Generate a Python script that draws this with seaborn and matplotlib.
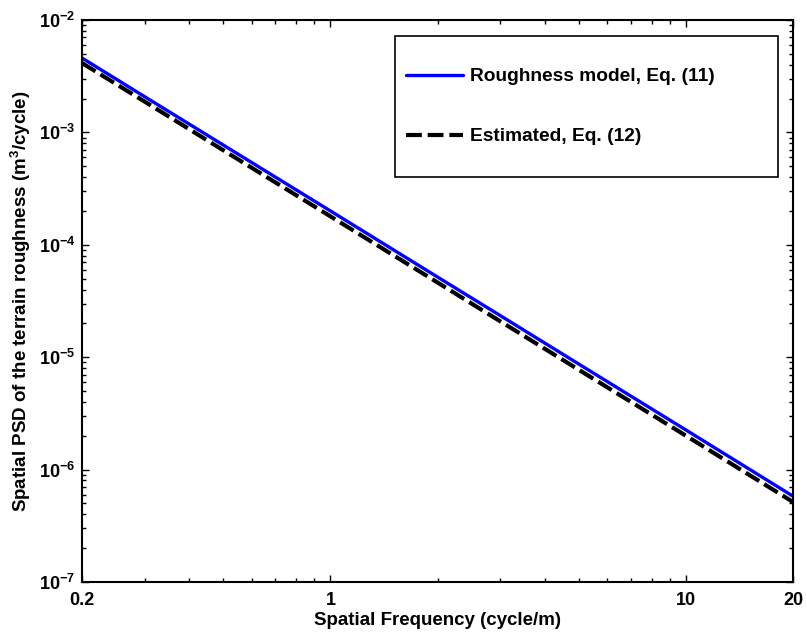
import numpy as np
import pandas as pd
import matplotlib
matplotlib.use("Agg")
import matplotlib.pyplot as plt
import matplotlib.ticker as mticker
from matplotlib.patches import Rectangle
import seaborn as sns

# Data (log-log straight lines)
freq = [0.2, 0.3, 0.5, 1.0, 2.0, 3.0, 5.0, 10.0, 20.0]
psd_model = [4.59e-3, 2.08e-3, 7.7e-4, 2.0e-4, 5.17e-5, 2.35e-5, 8.67e-6, 2.25e-6, 5.8e-7]
psd_est = [4.14e-3, 1.88e-3, 6.92e-4, 1.79e-4, 4.62e-5, 2.09e-5, 7.71e-6, 2.0e-6, 5.15e-7]
label_model = "Roughness model, Eq. (11)"
label_est = "Estimated, Eq. (12)"
x_ticks = [0.2, 1, 10, 20]
x_ticklabels = ["0.2", "1", "10", "20"]
y_ticks = [1e-7, 1e-6, 1e-5, 1e-4, 1e-3, 1e-2]

sns.set_style("ticks")
plt.rcParams["font.family"] = ["Liberation Sans", "DejaVu Sans"]
plt.rcParams["font.weight"] = "bold"
plt.rcParams["mathtext.fontset"] = "custom"
plt.rcParams["mathtext.rm"] = "Liberation Sans:bold"
plt.rcParams["mathtext.bf"] = "Liberation Sans:bold"
plt.rcParams["mathtext.it"] = "Liberation Sans:bold:italic"
for k in ["text.color", "axes.labelcolor", "xtick.color", "ytick.color", "axes.edgecolor"]:
    plt.rcParams[k] = "black"

df_model = pd.DataFrame({"f": freq, "psd": psd_model})
df_est = pd.DataFrame({"f": freq, "psd": psd_est})

W, H = 807, 634
L, R, T, B = 82, 793, 20, 582
fig = plt.figure(figsize=(W / 100, H / 100), dpi=100)
ax = fig.add_axes([L / W, 1 - B / H, (R - L) / W, (B - T) / H])

sns.lineplot(data=df_model, x="f", y="psd", ax=ax, color="#0000ff", lw=2.4,
             label=label_model, zorder=2)
sns.lineplot(data=df_est, x="f", y="psd", ax=ax, color="black", lw=3.0,
             label=label_est, zorder=3)
ax.lines[1].set_dashes([3.8, 1.4])

ax.set_xscale("log")
ax.set_yscale("log")
ax.set_xlim(0.2, 20)
ax.set_ylim(1e-7, 1e-2)

ax.xaxis.set_major_locator(mticker.FixedLocator(x_ticks))
ax.xaxis.set_major_formatter(mticker.FixedFormatter(x_ticklabels))
ax.xaxis.set_minor_locator(mticker.LogLocator(base=10, subs=np.arange(2, 10), numticks=20))
ax.xaxis.set_minor_formatter(mticker.NullFormatter())
ax.yaxis.set_major_locator(mticker.FixedLocator(y_ticks))
ax.yaxis.set_major_formatter(mticker.FuncFormatter(
    lambda v, p: r"$\mathrm{10^{%d}}$" % int(round(np.log10(v)))))
ax.yaxis.set_minor_locator(mticker.LogLocator(base=10, subs=np.arange(2, 10), numticks=20))
ax.yaxis.set_minor_formatter(mticker.NullFormatter())

ax.tick_params(which="both", direction="in", top=True, right=True, width=1.0,
               labelsize=13, colors="black")
ax.tick_params(axis="x", pad=7)
ax.tick_params(axis="y", pad=5)
ax.tick_params(which="major", length=5)
ax.tick_params(which="minor", length=3)
for s in ax.spines.values():
    s.set_linewidth(1.5)
    s.set_color("black")

to_ax = lambda px, py: ((px - L) / (R - L), (B - py) / (B - T))

ax.set_xlabel("Spatial Frequency (cycle/m)", fontsize=13.5, fontweight="bold")
ax.set_ylabel(r"Spatial PSD of the terrain roughness (m$^3$/cycle)", fontsize=13.5,
              fontweight="bold")
ax.xaxis.set_label_coords(0.5, to_ax(0, 612)[1])
ax.yaxis.set_label_coords(to_ax(33, 0)[0], 0.5)

# Legend frame (MATLAB-like, wide box with content left-aligned)
x0, y0 = to_ax(395, 177)
x1, y1 = to_ax(778, 36)
ax.add_patch(Rectangle((x0, y0), x1 - x0, y1 - y0, transform=ax.transAxes,
                       facecolor="white", edgecolor="black", lw=1.2, zorder=5))

ax_, ay_ = to_ax(406, 68)
leg = ax.legend(loc="upper left", bbox_to_anchor=(ax_, ay_), frameon=False,
                fontsize=13.8, handlelength=2.97, handletextpad=0.36, borderpad=0,
                labelspacing=2.22, borderaxespad=0)
leg.set_zorder(6)
for t in leg.get_texts():
    t.set_fontweight("bold")

fig.savefig("out.png", dpi=100, facecolor="white")
